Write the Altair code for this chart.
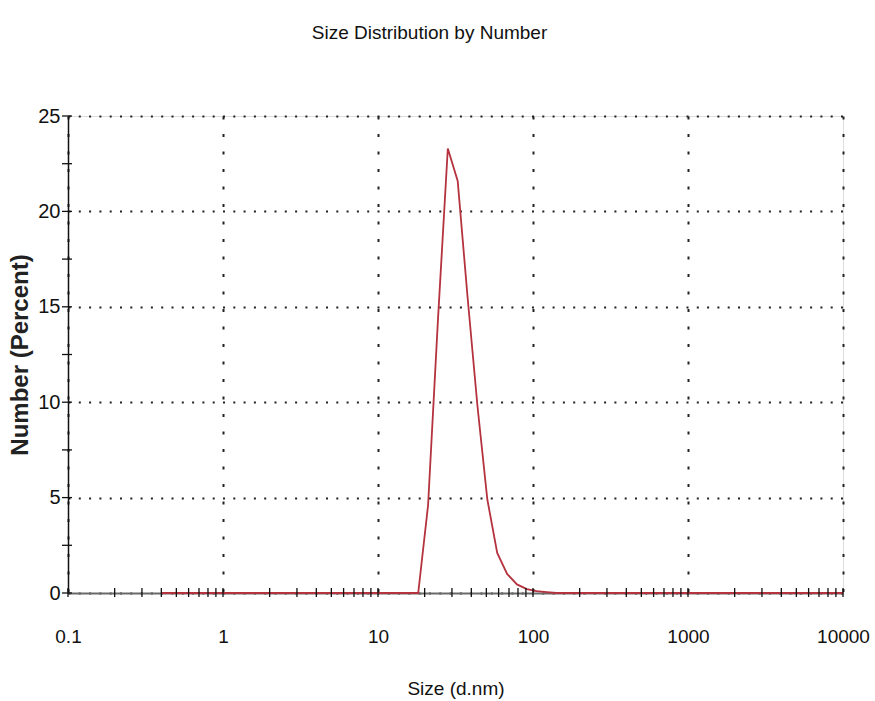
import altair as alt
import pandas as pd

# Zetasizer size classes (d.nm) and the number distribution (%)
sizes = [0.4, 0.4632, 0.5365, 0.6213, 0.7195, 0.8332, 0.9649, 1.117, 1.294, 1.499,
         1.736, 2.01, 2.328, 2.696, 3.122, 3.615, 4.187, 4.849, 5.615, 6.503,
         7.531, 8.721, 10.1, 11.7, 13.54, 15.69, 18.17, 21.04, 24.36, 28.21,
         32.67, 37.84, 43.82, 50.75, 58.77, 68.06, 78.82, 91.28, 105.7, 122.4,
         141.8, 164.2, 190.1, 220.2, 255.0, 295.3, 342.0, 396.1, 458.7, 531.2,
         615.1, 712.4, 825.0, 955.4, 1106, 1281, 1484, 1718, 1990, 2305,
         2669, 3091, 3580, 4145, 4801, 5560, 6439, 7456, 8635, 10000]
number_pct = [0, 0, 0, 0, 0, 0, 0, 0, 0, 0,
              0, 0, 0, 0, 0, 0, 0, 0, 0, 0,
              0, 0, 0, 0, 0, 0, 0, 4.6, 14.3, 23.3,
              21.6, 15.5, 9.8, 4.9, 2.1, 1.0, 0.45, 0.2, 0.1, 0.05,
              0, 0, 0, 0, 0, 0, 0, 0, 0, 0,
              0, 0, 0, 0, 0, 0, 0, 0, 0, 0,
              0, 0, 0, 0, 0, 0, 0, 0, 0, 0]

decades = [0.1, 1, 10, 100, 1000, 10000]
x_tick_values = [m * d for d in decades[:-1] for m in range(1, 10)] + [decades[-1]]
y_major = [0, 5, 10, 15, 20, 25]
y_tick_values = [0, 2.5, 5, 7.5, 10, 12.5, 15, 17.5, 20, 22.5, 25]

W, H = 775, 477
FONT = "Liberation Sans"

dist = pd.DataFrame({"size": sizes, "number": number_pct})
xt = pd.DataFrame({"t": x_tick_values})
yt = pd.DataFrame({"t": y_tick_values})

x_scale = alt.Scale(type="log", domain=[0.1, 10000], nice=False)
y_scale = alt.Scale(domain=[0, 25], nice=False, zero=False)

x_axis = alt.Axis(
    values=decades, format="~g", labelExpr="datum.value", grid=True,
    gridDash=[3, 14.5], gridColor="#222222", gridWidth=2,
    ticks=False, domainColor="#6a6a6a", domainWidth=2.2,
    labelFont=FONT, labelFontSize=19, labelColor="#111111",
    labelPadding=43, labelBaseline="middle", labelFlush=False,
    title="Size (d.nm)", titleFont=FONT, titleFontSize=19, titleFontWeight="normal",
    titleColor="#111111", titleY=95, titleBaseline="middle",
)
y_axis = alt.Axis(
    values=y_major, grid=True, gridDash=[2, 8.3], gridColor="#222222", gridWidth=2,
    ticks=False, domainColor="#111111", domainWidth=1.5,
    labelFont=FONT, labelFontSize=20, labelColor="#111111",
    labelPadding=8, labelBaseline="middle",
    title="Number (Percent)", titleFont=FONT, titleFontSize=24,
    titleFontWeight=600, titleColor="#222222", titleX=-48, titleY=H / 2,
    titleBaseline="middle", titleAlign="center", titleAngle=-90,
)

line = alt.Chart(dist).mark_line(color="#b5323f", strokeWidth=1.8).encode(
    x=alt.X("size:Q", scale=x_scale, axis=x_axis),
    y=alt.Y("number:Q", scale=y_scale, axis=y_axis),
)

x_ticks = alt.Chart(xt).mark_rule(color="#111111", strokeWidth=1.3).encode(
    x=alt.X("t:Q", scale=x_scale),
    y=alt.value(H - 5), y2=alt.value(H + 4),
)
y_ticks = alt.Chart(yt).mark_rule(color="#111111", strokeWidth=1.3).encode(
    y=alt.Y("t:Q", scale=y_scale),
    x=alt.value(-6), x2=alt.value(4),
)

chart = alt.layer(line, x_ticks, y_ticks).properties(
    width=W, height=H,
    title=alt.TitleParams(
        "Size Distribution by Number", font=FONT, fontSize=19,
        fontWeight="normal", color="#111111", anchor="middle", dx=-26, offset=63,
    ),
    autosize=alt.AutoSizeParams(type="none"),
    padding={"left": 68, "top": 116, "right": 32, "bottom": 108},
).configure_view(stroke=None).configure(background="white")

chart.save("out.html", embed_options={"renderer": "svg", "actions": False})
